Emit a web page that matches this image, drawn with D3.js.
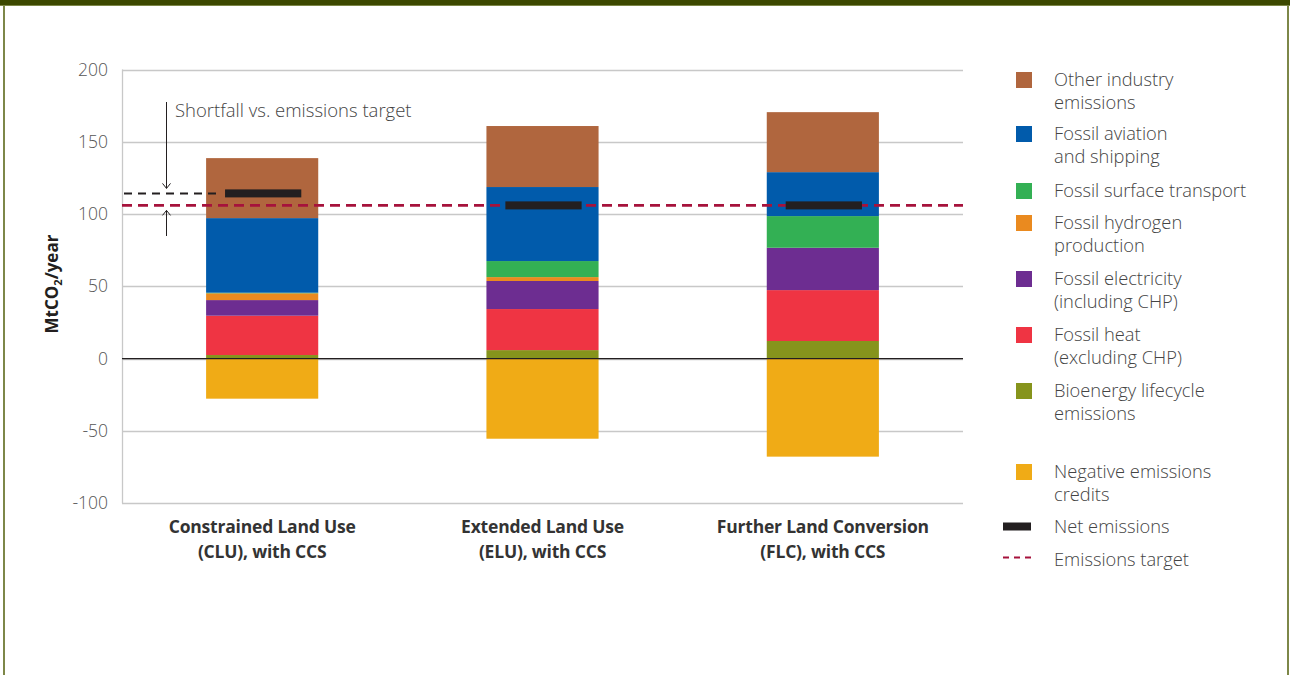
<!DOCTYPE html>
<html>
<head>
<meta charset="utf-8">
<script src="https://cdn.jsdelivr.net/npm/d3@7"></script>
<style>
  html, body { margin: 0; padding: 0; background: #fff; }
  svg { display: block; }
</style>
</head>
<body>
<svg id="chart" width="1290" height="675"></svg>
<script>
// ---------- DATA ----------
const categories = ["CLU", "ELU", "FLC"];
const categoryLabels = [
  ["Constrained Land Use", "(CLU), with CCS"],
  ["Extended Land Use", "(ELU), with CCS"],
  ["Further Land Conversion", "(FLC), with CCS"]
];
// positive stack, bottom to top
const seriesNames = ["Bioenergy lifecycle emissions", "Fossil heat (excluding CHP)", "Fossil electricity (including CHP)",
  "Fossil hydrogen production", "Fossil surface transport", "Fossil aviation and shipping", "Other industry emissions"];
const bioenergy   = [2.5, 5.9, 12.2];
const fossilHeat  = [27.2, 28.4, 35.2];
const fossilElec  = [10.8, 19.4, 29.3];
const hydrogen    = [4.7, 2.7, 0];
const surface     = [0.4, 11.1, 21.9];
const aviation    = [51.6, 51.2, 30.4];
const otherInd    = [41.5, 42.2, 41.5];
const negativeCredits = [-27.7, -55.4, -67.8];
const netEmissions = [114.3, 106, 106];
const emissionsTarget = 106;
const yTicks = [-100, -50, 0, 50, 100, 150, 200];

const seriesValues = [bioenergy, fossilHeat, fossilElec, hydrogen, surface, aviation, otherInd];
const seriesColors = ["#86941c", "#ef3443", "#6d2d91", "#ea8a1f", "#33b054", "#015bab", "#b0663e"];
const negColor = "#f0ab16";

// legend entries (top to bottom)
const legendItems = [
  {lines: ["Other industry", "emissions"], color: "#b0663e", y: 78},
  {lines: ["Fossil aviation", "and shipping"], color: "#015bab", y: 132},
  {lines: ["Fossil surface transport"], color: "#33b054", y: 189},
  {lines: ["Fossil hydrogen", "production"], color: "#ea8a1f", y: 221},
  {lines: ["Fossil electricity", "(including CHP)"], color: "#6d2d91", y: 277},
  {lines: ["Fossil heat", "(excluding CHP)"], color: "#ef3443", y: 333},
  {lines: ["Bioenergy lifecycle", "emissions"], color: "#86941c", y: 389},
  {lines: ["Negative emissions", "credits"], color: "#f0ab16", y: 470}
];

// ---------- LAYOUT ----------
const svg = d3.select("#chart");
const margin = {left: 122, right: 963, top: 69.5, bottom: 503.2};
const FONT = "'Open Sans', sans-serif";

// frame
svg.append("rect").attr("x", 0).attr("y", 0).attr("width", 1290).attr("height", 5).attr("fill", "#3c4800");
svg.append("rect").attr("x", 0).attr("y", 5).attr("width", 1290).attr("height", 1).attr("fill", "#7d8748");
svg.append("rect").attr("x", 3).attr("y", 5).attr("width", 2).attr("height", 670).attr("fill", "#7d8748");
svg.append("rect").attr("x", 1287).attr("y", 5).attr("width", 2).attr("height", 670).attr("fill", "#7d8748");

const x = d3.scaleBand().domain(categories).range([margin.left, margin.right]).paddingInner(0.6).paddingOuter(0.3);
const y = d3.scaleLinear().domain([-100, 200]).range([margin.bottom, margin.top]);

// gridlines
const grid = svg.append("g");
grid.selectAll("line").data(yTicks).enter().append("line")
  .attr("x1", margin.left).attr("x2", margin.right)
  .attr("y1", d => Math.round(y(d)) + 0.5).attr("y2", d => Math.round(y(d)) + 0.5)
  .attr("stroke", "#c8c8c8").attr("stroke-width", 1.3);
svg.append("line").attr("x1", margin.left + 0.5).attr("x2", margin.left + 0.5)
  .attr("y1", y(200)).attr("y2", y(-100)).attr("stroke", "#c8c8c8").attr("stroke-width", 1.3);

// y axis
const yAxis = d3.axisLeft(y).tickValues(yTicks).tickSize(0).tickPadding(14).tickFormat(d => String(d));
const ya = svg.append("g").attr("transform", `translate(${margin.left},0)`).call(yAxis);
ya.select(".domain").remove();
ya.selectAll("text").attr("font-family", FONT).attr("font-size", 17.5)
  .attr("fill", "#555").attr("font-weight", 300);

// y title
const yt = svg.append("text").attr("transform", "translate(58,284) rotate(-90)")
  .attr("text-anchor", "middle").attr("font-family", FONT)
  .attr("font-size", 17).attr("font-weight", 700).attr("fill", "#231f20");
yt.append("tspan").text("MtCO");
yt.append("tspan").text("2").attr("font-size", 11).attr("dy", 4);
yt.append("tspan").text("/year").attr("dy", -4);

// stacked bars
const stackData = categories.map((c, i) => {
  const o = {cat: c};
  seriesNames.forEach((s, j) => o[s] = seriesValues[j][i]);
  return o;
});
const stacked = d3.stack().keys(seriesNames)(stackData);
const bars = svg.append("g");
stacked.forEach((layer, j) => {
  bars.selectAll(null).data(layer).enter().append("rect")
    .attr("x", d => x(d.data.cat)).attr("width", x.bandwidth())
    .attr("y", d => y(d[1])).attr("height", d => Math.max(0, y(d[0]) - y(d[1])))
    .attr("fill", seriesColors[j]);
});
bars.selectAll(null).data(categories).enter().append("rect")
  .attr("x", d => x(d)).attr("width", x.bandwidth())
  .attr("y", y(0)).attr("height", (d, i) => y(negativeCredits[i]) - y(0))
  .attr("fill", negColor);

// zero line
svg.append("line").attr("x1", margin.left).attr("x2", margin.right)
  .attr("y1", y(0)).attr("y2", y(0)).attr("stroke", "#231f20").attr("stroke-width", 1.2);

// emissions target line
svg.append("line").attr("x1", margin.left).attr("x2", margin.right)
  .attr("y1", y(emissionsTarget)).attr("y2", y(emissionsTarget))
  .attr("stroke", "#a6123c").attr("stroke-width", 2.6).attr("stroke-dasharray", "10,6");

// net emissions marks
const netW = x.bandwidth() * 0.68;
svg.selectAll(null).data(categories).enter().append("rect")
  .attr("x", d => x(d) + x.bandwidth() / 2 - netW / 2 + 1).attr("width", netW)
  .attr("y", (d, i) => y(netEmissions[i]) - 4).attr("height", 8)
  .attr("fill", "#231f20");

// shortfall annotation (CLU)
const cx0 = x(categories[0]);
svg.append("line").attr("x1", margin.left + 2).attr("x2", cx0 + 12)
  .attr("y1", y(netEmissions[0])).attr("y2", y(netEmissions[0]))
  .attr("stroke", "#231f20").attr("stroke-width", 2).attr("stroke-dasharray", "8,6");
const ax = 166.5;
const arrowG = svg.append("g").attr("stroke", "#231f20").attr("stroke-width", 1).attr("fill", "none");
const yNet = y(netEmissions[0]), yTgt = y(emissionsTarget);
arrowG.append("line").attr("x1", ax).attr("x2", ax).attr("y1", 102).attr("y2", yNet - 5);
arrowG.append("path").attr("d", `M${ax - 4},${yNet - 10} L${ax},${yNet - 5} L${ax + 4},${yNet - 10}`);
arrowG.append("line").attr("x1", ax).attr("x2", ax).attr("y1", 236).attr("y2", yTgt + 5);
arrowG.append("path").attr("d", `M${ax - 4},${yTgt + 10} L${ax},${yTgt + 5} L${ax + 4},${yTgt + 10}`);
svg.append("text").attr("x", 175).attr("y", 117).text("Shortfall vs. emissions target")
  .attr("font-family", FONT).attr("font-size", 18.5).attr("font-weight", 300)
  .attr("fill", "#444");

// category labels
categories.forEach((c, i) => {
  const t = svg.append("text").attr("text-anchor", "middle")
    .attr("font-family", FONT).attr("font-size", 17.5)
    .attr("font-weight", 700).attr("fill", "#333").attr("letter-spacing", -0.2);
  categoryLabels[i].forEach((ln, k) => {
    t.append("tspan").attr("x", x(c) + x.bandwidth() / 2).attr("y", 533 + k * 25).text(ln);
  });
});

// legend
const lg = svg.append("g");
const lsize = 18.3;
legendItems.forEach(it => {
  lg.append("rect").attr("x", 1016).attr("y", it.y - 6).attr("width", 16).attr("height", 16).attr("fill", it.color);
  const t = lg.append("text").attr("font-family", FONT).attr("font-size", lsize)
    .attr("font-weight", 300).attr("fill", "#444");
  it.lines.forEach((ln, k) => {
    t.append("tspan").attr("x", 1054).attr("y", it.y + 8 + k * 22.5).text(ln);
  });
});
lg.append("rect").attr("x", 1003).attr("y", 522.5).attr("width", 28).attr("height", 8).attr("fill", "#231f20");
lg.append("text").attr("x", 1054).attr("y", 533).text("Net emissions")
  .attr("font-family", FONT).attr("font-size", lsize).attr("font-weight", 300).attr("fill", "#444");
lg.append("line").attr("x1", 1003).attr("x2", 1031).attr("y1", 557.5).attr("y2", 557.5)
  .attr("stroke", "#a6123c").attr("stroke-width", 2.2).attr("stroke-dasharray", "6,5");
lg.append("text").attr("x", 1054).attr("y", 565.5).text("Emissions target")
  .attr("font-family", FONT).attr("font-size", lsize).attr("font-weight", 300).attr("fill", "#444");
</script>
</body>
</html>
